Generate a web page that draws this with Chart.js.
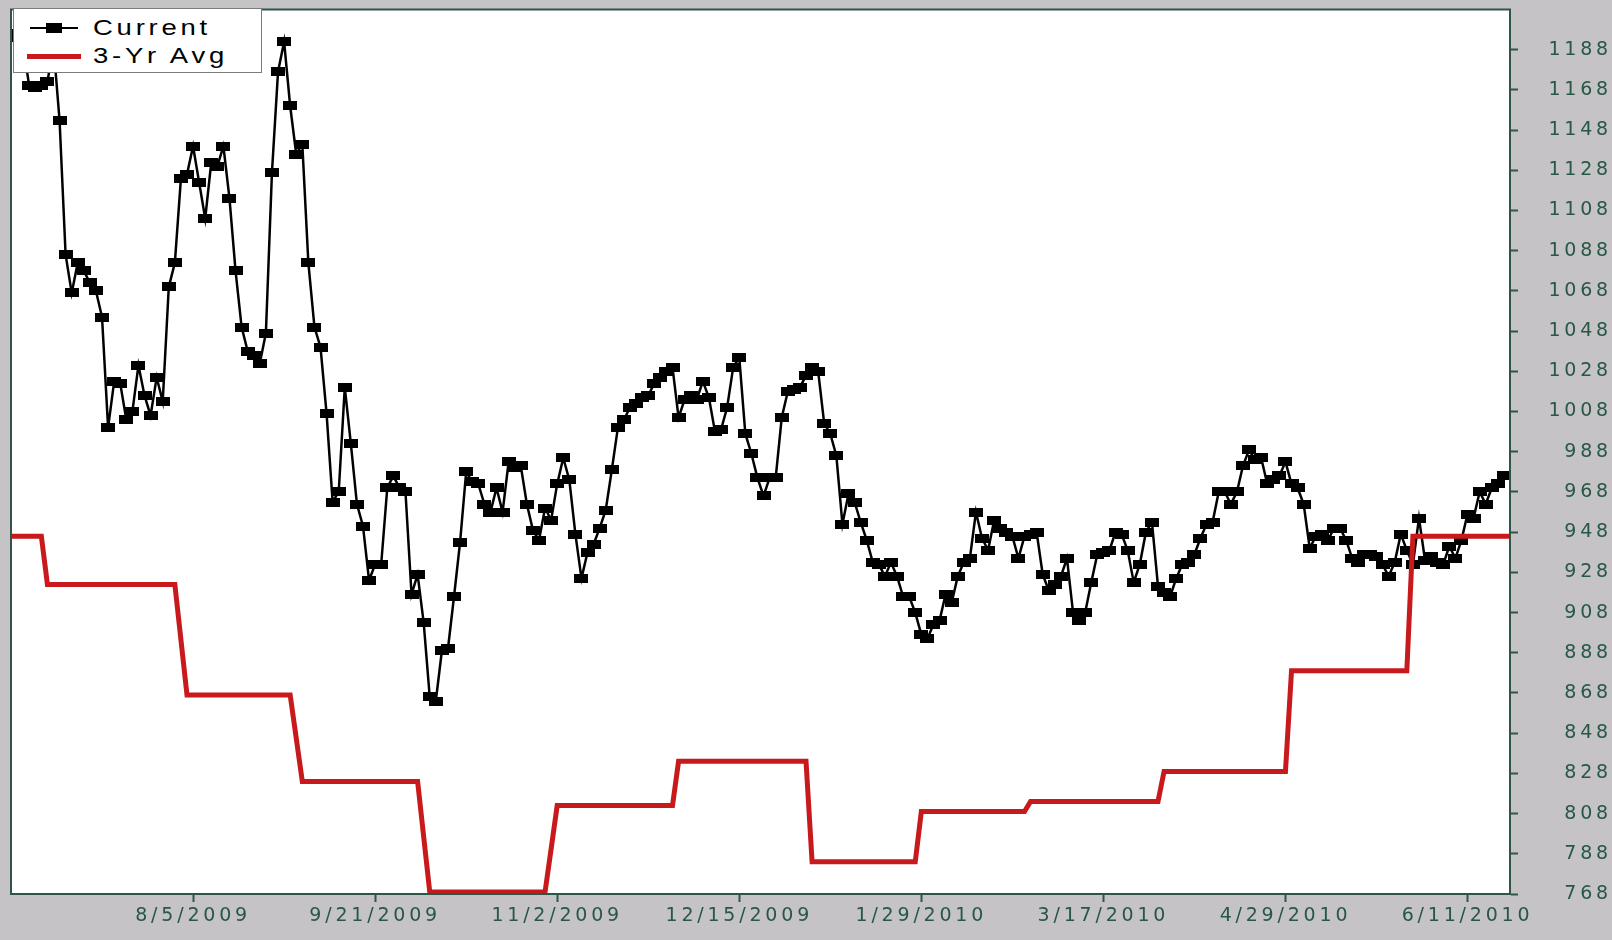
<!DOCTYPE html>
<html>
<head>
<meta charset="utf-8">
<script src="https://cdn.jsdelivr.net/npm/chart.js@4.4.1/dist/chart.umd.min.js"></script>
<style>
  html, body { margin: 0; padding: 0; background: #c5c3c5; }
  #wrap { position: relative; width: 1612px; height: 940px; }
  #legend {
    position: absolute; left: 13px; top: 8px; width: 249px; height: 65px;
    background: #fff; border: 1px solid #7c7c7c; box-sizing: border-box; overflow: hidden;
    font-family: 'Liberation Sans', Arial, sans-serif; font-size: 22px; color: #000;
  }
  .row { position: absolute; left: 0; height: 26px; width: 100%; }
  .row span {
    position: absolute; left: 79px; top: 0; line-height: 26px; white-space: nowrap;
    letter-spacing: 3px; transform: scaleX(1.25); transform-origin: 0 50%;
  }
  .sym { position: absolute; }
</style>
</head>
<body>
<div id="wrap">
  <canvas id="chart" width="1612" height="940"></canvas>
  <div id="legend">
    <div class="row" style="top:6px">
      <div class="sym" style="left:16px; top:12px; width:48px; height:2px; background:#000"></div>
      <div class="sym" style="left:32px; top:8px; width:16px; height:10px; background:#000"></div>
      <span>Current</span>
    </div>
    <div class="row" style="top:34px">
      <div class="sym" style="left:13px; top:11px; width:54px; height:5px; background:#c8191d"></div>
      <span>3-Yr Avg</span>
    </div>
  </div>
</div>
<script>
// Current series, one value per trading day (index 0 = left edge)
const currentValues = [
  1196, 1194, 1190, 1170, 1169, 1170, 1172, 1190, 1153, 1086,
  1067, 1082, 1078, 1072, 1068, 1055, 1000, 1023, 1022, 1004,
  1008, 1031, 1016, 1006, 1025, 1013, 1070, 1082, 1124, 1126,
  1140, 1122, 1104, 1132, 1130, 1140, 1114, 1078, 1050, 1038,
  1036, 1032, 1047, 1127, 1177, 1192, 1160, 1136, 1141, 1082,
  1050, 1040, 1007, 963, 968, 1020, 992, 962, 951, 924,
  932, 932, 970, 976, 970, 968, 917, 927, 903, 866,
  864, 889, 890, 916, 943, 978, 973, 972, 962, 958,
  970, 958, 983, 980, 981, 962, 949, 944, 960, 954,
  972, 985, 974, 947, 925, 938, 942, 950, 959, 979,
  1000, 1004, 1010, 1012, 1015, 1016, 1022, 1025, 1028, 1030,
  1005, 1014, 1016, 1014, 1023, 1015, 998, 999, 1010, 1030,
  1035, 997, 987, 975, 966, 975, 975, 1005, 1018, 1019,
  1020, 1026, 1030, 1028, 1002, 997, 986, 952, 967, 963,
  953, 944, 933, 932, 926, 933, 926, 916, 916, 908,
  897, 895, 902, 904, 917, 913, 926, 933, 935, 958,
  945, 939, 954, 950, 948, 946, 935, 946, 947, 948,
  927, 919, 922, 926, 935, 908, 904, 908, 923, 937,
  938, 939, 948, 947, 939, 923, 932, 948, 953, 921,
  918, 916, 925, 932, 933, 937, 945, 952, 953, 968,
  968, 962, 968, 981, 989, 984, 985, 972, 974, 976,
  983, 972, 970, 962, 940, 946, 947, 944, 950, 950,
  944, 935, 933, 937, 937, 936, 932, 926, 933, 947,
  939, 932, 955, 934, 936, 933, 932, 941, 935, 944,
  957, 955, 968, 962, 970, 972, 976
];

// 3-Yr Avg: step levels, given at the indices where the level changes
const avgIdx = [0, 5, 6, 27, 29, 46, 48, 67, 69, 88, 90, 109, 110, 131, 132, 149, 150, 167, 168, 189, 190, 210, 211, 230, 231, 247];
const avgVal = [946, 946, 922, 922, 867, 867, 824, 824, 769, 769, 812, 812, 834, 834, 784, 784, 809, 809, 814, 814, 829, 829, 879, 879, 946, 946];

// x axis tick labels and their positions
const tickIdx = [30, 60, 90, 120, 150, 180, 210, 240];
const tickLabels = ['8/5/2009', '9/21/2009', '11/2/2009', '12/15/2009', '1/29/2010', '3/17/2010', '4/29/2010', '6/11/2010'];
// y axis ticks
const yTicks = [768, 788, 808, 828, 848, 868, 888, 908, 928, 948, 968, 988, 1008, 1028, 1048, 1068, 1088, 1108, 1128, 1148, 1168, 1188];

const axisColor = '#2f5448';
const textColor = '#275846';
const tickFont = { family: "'DejaVu Sans', sans-serif", size: 19 };
const spacing = '3.8px';

// rectangular marker
const marker = document.createElement('canvas');
marker.width = 14;
marker.height = 9;
const mctx = marker.getContext('2d');
mctx.fillStyle = '#000';
mctx.fillRect(0, 0, 14, 9);

const plotBox = {
  id: 'plotBox',
  beforeUpdate(chart) { chart.ctx.letterSpacing = spacing; },
  beforeDraw(chart) {
    const c = chart.ctx, a = chart.chartArea;
    c.letterSpacing = spacing;
    c.save();
    c.fillStyle = '#fff';
    c.fillRect(a.left, a.top, a.right - a.left, a.bottom - a.top);
    c.restore();
  },
  afterDraw(chart) {
    const c = chart.ctx, a = chart.chartArea;
    c.save();
    c.strokeStyle = axisColor;
    c.lineWidth = 2;
    c.strokeRect(a.left, a.top, a.right - a.left, a.bottom - a.top);
    c.restore();
  }
};

const ctx = document.getElementById('chart').getContext('2d');
new Chart(ctx, {
  type: 'line',
  data: {
    datasets: [{
      label: '3-Yr Avg',
      data: avgIdx.map((x, i) => ({ x: x, y: avgVal[i] })),
      borderColor: '#c8191d',
      borderWidth: 5,
      pointRadius: 0,
      order: 0
    }, {
      label: 'Current',
      data: currentValues.map((v, i) => ({ x: i, y: v })),
      borderColor: '#000',
      borderWidth: 2.5,
      pointStyle: marker,
      pointRadius: 7,
      order: 1
    }]
  },
  options: {
    responsive: false,
    animation: false,
    layout: { padding: { left: 11, top: 8, right: 0, bottom: 0 } },
    plugins: {
      legend: { display: false },
      tooltip: { enabled: false }
    },
    scales: {
      x: {
        type: 'linear',
        min: 0,
        max: 247,
        afterBuildTicks: axis => { axis.ticks = tickIdx.map(v => ({ value: v })); },
        afterFit: axis => {
          axis.height = 46;
          axis.paddingLeft = 0;
          axis.paddingRight = 0;
        },
        ticks: {
          autoSkip: false,
          maxRotation: 0,
          padding: 3,
          color: textColor,
          font: tickFont,
          callback: value => tickLabels[tickIdx.indexOf(value)]
        },
        grid: { drawOnChartArea: false, tickLength: 8, color: axisColor, tickWidth: 2 },
        border: { color: axisColor, width: 2 }
      },
      y: {
        position: 'right',
        min: 768,
        max: 1208,
        afterBuildTicks: axis => { axis.ticks = yTicks.map(v => ({ value: v })); },
        afterFit: axis => {
          axis.width = 102;
          axis.paddingTop = 0;
          axis.paddingBottom = 0;
        },
        ticks: {
          crossAlign: 'far',
          padding: 14,
          color: textColor,
          font: tickFont,
          callback: value => String(value)
        },
        grid: { drawOnChartArea: false, tickLength: 8, color: axisColor, tickWidth: 2 },
        border: { color: axisColor, width: 2 }
      }
    }
  },
  plugins: [plotBox]
});
</script>
</body>
</html>
